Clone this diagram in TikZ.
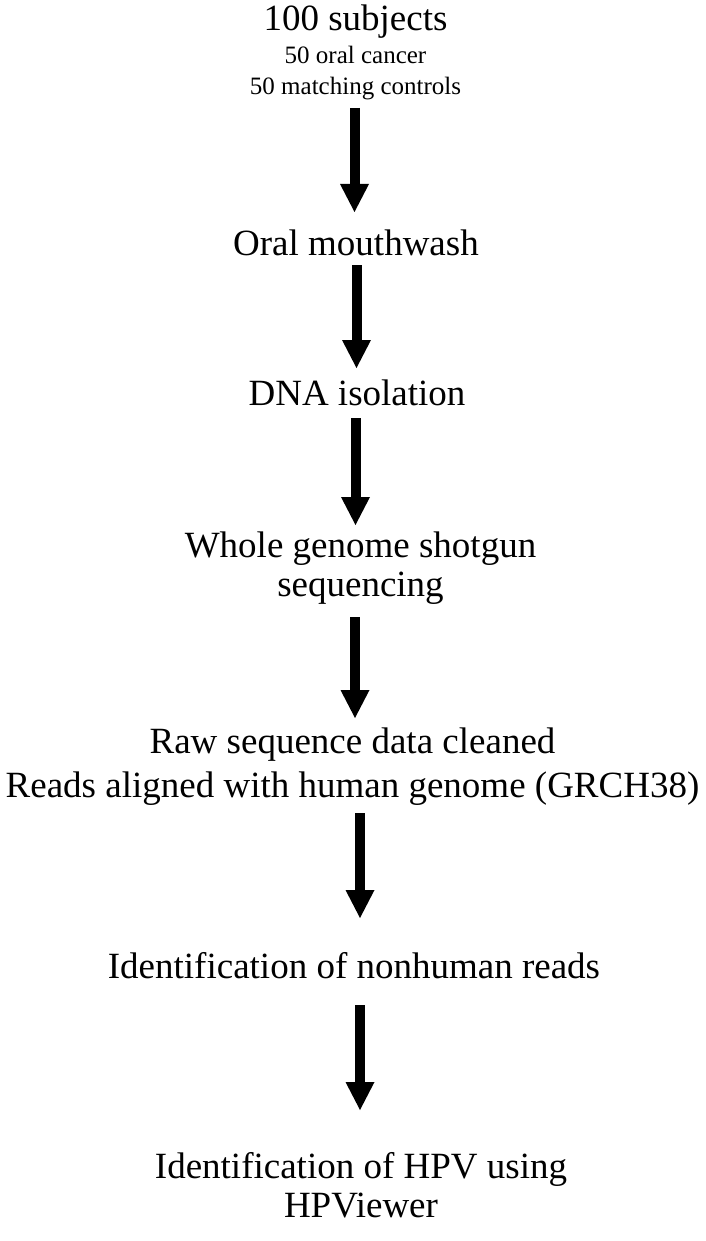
\documentclass[tikz,border=0pt]{standalone}
\usepackage{fontspec}
\setmainfont{Liberation Serif}
\usetikzlibrary{arrows.meta}
\tikzset{
  big/.style={font=\fontsize{37}{35}\selectfont, inner sep=0pt, anchor=base, align=center},
  small/.style={font=\fontsize{25}{31}\selectfont, inner sep=0pt, anchor=base, align=center},
  flowarrow/.style={line width=10pt, -{Triangle[width=29pt,length=28pt,line width=0pt]}}
}
\begin{document}
\begin{tikzpicture}[x=1pt,y=-1pt]
\useasboundingbox (0,0) rectangle (706,1241);
% text (base anchor = baseline of the last line)
\node[big] (n1) at (355.5,31) {100 subjects};
\node[small] (n1b) at (355.5,95) {50 oral cancer\\50 matching controls};
\node[big] (n2) at (356,255) {Oral mouthwash};
\node[big] (n3) at (357,405) {DNA isolation};
\node[big, font=\fontsize{37}{39}\selectfont] (n4) at (360.5,596) {Whole genome shotgun\\sequencing};
\node[big, font=\fontsize{37}{44}\selectfont] (n5) at (352.5,797) {Raw sequence data cleaned\\Reads aligned with human genome (GRCH38)};
\node[big] (n6) at (354,978) {Identification of nonhuman reads};
\node[big, font=\fontsize{37}{39}\selectfont] (n7) at (361,1217) {Identification of HPV using\\HPViewer};
% arrow end points
\coordinate (a1s) at (354.5,108); \coordinate (a1e) at (354.5,212);
\coordinate (a2s) at (356.5,265); \coordinate (a2e) at (356.5,368);
\coordinate (a3s) at (355.5,418); \coordinate (a3e) at (355.5,525);
\coordinate (a4s) at (355,617);   \coordinate (a4e) at (355,718);
\coordinate (a5s) at (360,813);   \coordinate (a5e) at (360,918);
\coordinate (a6s) at (360,1005);  \coordinate (a6e) at (360,1110);
\draw[flowarrow] (a1s) -- (a1e);
\draw[flowarrow] (a2s) -- (a2e);
\draw[flowarrow] (a3s) -- (a3e);
\draw[flowarrow] (a4s) -- (a4e);
\draw[flowarrow] (a5s) -- (a5e);
\draw[flowarrow] (a6s) -- (a6e);
\end{tikzpicture}
\end{document}
